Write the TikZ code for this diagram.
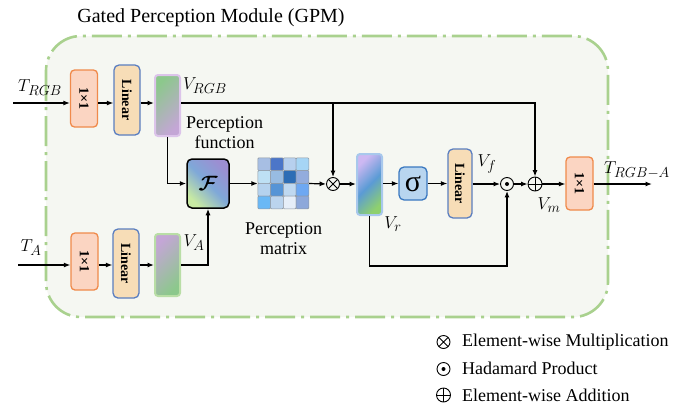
\documentclass[tikz,border=0pt]{standalone}
\usepackage{fontspec}
\setmainfont{Liberation Serif}
\usepackage{amsmath,bm,graphicx}
\usetikzlibrary{arrows.meta}
\definecolor{gpmline}{HTML}{A9D18E}
\definecolor{gpmfill}{HTML}{F5F7F2}
\definecolor{orgline}{HTML}{F08A4B}
\definecolor{orgfill}{HTML}{FBD5C2}
\definecolor{linline}{HTML}{5A7EC0}
\definecolor{linfill}{HTML}{F7DDB7}
\definecolor{sigline}{HTML}{3A78C0}
\definecolor{sigfill}{HTML}{B8D5EF}
\definecolor{barg}{HTML}{8CC88C}
\definecolor{barp}{HTML}{C4A6D6}
\definecolor{rgbline}{HTML}{DCC4EA}
\definecolor{aline}{HTML}{B9DEA6}
\definecolor{rline}{HTML}{A8C8EC}
\definecolor{vrp}{HTML}{CDB8F2}
\definecolor{vrb}{HTML}{5B9BD5}
\definecolor{vrg}{HTML}{8ED06E}
\definecolor{fp}{HTML}{9C8ED2}
\definecolor{fb}{HTML}{7FA8D8}
\definecolor{fg}{HTML}{C8EAA2}
\definecolor{cellb}{HTML}{8F98A3}
\newcommand{\bxt}{\fontsize{14}{15}\selectfont\bfseries}
\begin{document}
\begin{tikzpicture}[x=1pt,y=-1pt,
  arr/.style={-{Latex[length=6.5pt,width=5pt]}, line width=1.2pt},
  onebox/.style={draw=orgline, fill=orgfill, line width=1.3pt, rounded corners=4pt, minimum width=27pt, minimum height=57pt, inner sep=0pt},
  linbox/.style={draw=linline, fill=linfill, line width=1.3pt, rounded corners=5pt, minimum width=26pt, minimum height=70pt, inner sep=0pt},
  bar/.style={minimum width=25pt, minimum height=61pt, rounded corners=3pt, line width=2pt, inner sep=0pt},
  opc/.style={circle, draw, line width=0.9pt, minimum size=13pt, inner sep=0pt},
  otimesop/.style={opc, path picture={\draw[line width=0.8pt] (path picture bounding box.north west) -- (path picture bounding box.south east) (path picture bounding box.north east) -- (path picture bounding box.south west);}},
  oplusop/.style={opc, path picture={\draw[line width=0.8pt] (path picture bounding box.north) -- (path picture bounding box.south) (path picture bounding box.east) -- (path picture bounding box.west);}},
  odotop/.style={opc, path picture={\fill (path picture bounding box.center) circle (2pt);}},
  lbl/.style={font=\fontsize{19}{22}\selectfont, inner sep=0pt},
  txt/.style={font=\fontsize{18}{20}\selectfont, inner sep=0pt},
]
\useasboundingbox (0,0) rectangle (684,407);

% module frame
\draw[gpmline, fill=gpmfill, line width=2.6pt, rounded corners=35pt,
  dash pattern=on 30pt off 6pt on 3pt off 6pt] (46,36) rectangle (608,317);
\node[font=\fontsize{20}{22}\selectfont, inner sep=0pt] (title) at (211,18) {Gated Perception Module (GPM)};

% inputs
\coordinate (inT) at (13,103);
\coordinate (inA) at (18,265);
\coordinate (loopY) at (0,266);
\coordinate (out) at (652,184);

% nodes
\node[onebox] (c1a) at (84,98.5) {\rotatebox{-90}{\bxt 1×1}};
\node[linbox] (lin1) at (127,100) {\rotatebox{-90}{\bxt Linear}};
\node[bar, draw=rgbline, top color=barg, bottom color=barp, shading angle=45] (vrgb) at (167.5,105.5) {};

\node[onebox] (c1b) at (84.5,261.5) {\rotatebox{-90}{\bxt 1×1}};
\node[linbox, minimum height=69pt] (lin2) at (126,263.5) {\rotatebox{-90}{\bxt Linear}};
\node[bar, draw=aline, top color=barp, bottom color=barg, shading angle=45, minimum height=62pt] (va) at (167.5,265) {};

\node[draw=black, line width=1.5pt, rounded corners=5pt, minimum width=42pt, minimum height=49pt, inner sep=0pt,
  top color=fp, bottom color=fg, middle color=fb, shading angle=-45] (F) at (208,183.5) {\fontsize{21}{23}\selectfont$\bm{\mathcal{F}}$};

\node[minimum width=51pt, minimum height=51pt, inner sep=0pt] (mat) at (283.5,183.5) {};
\foreach \r/\k/\col in {0/0/A7BEE3,0/1/4C76C8,0/2/B7D0EE,0/3/A6D5F5,
                        1/0/BEE0F4,1/1/98BCE2,1/2/2D6DB5,1/3/93ACDD,
                        2/0/B5D2EE,2/1/5694D6,2/2/BFD8F0,2/3/6EA8F2,
                        3/0/6AB8F5,3/1/BBD4EE,3/2/E6EEF8,3/3/8DA8DA}{
  \definecolor{cellc}{HTML}{\col}
  \draw[draw=cellb, fill=cellc, line width=0.6pt, rounded corners=1pt]
    ([xshift=\k*12.75pt, yshift=-\r*12.75pt]mat.north west) rectangle ++(12.75,12.75);
}

\node[otimesop] (otimes) at (333,184) {};
\node[bar, draw=rline, top color=vrp, bottom color=vrg, middle color=vrb, shading angle=45] (vr) at (369.5,184.5) {};
\node[draw=sigline, fill=sigfill, line width=1.3pt, rounded corners=5pt, minimum width=28pt, minimum height=33pt, inner sep=0pt] (sig) at (413,183.5) {\fontsize{30}{30}\selectfont σ};
\node[linbox, minimum width=24pt, minimum height=69pt] (lin3) at (460,183.5) {\rotatebox{-90}{\bxt Linear}};
\node[odotop] (odot) at (507,184) {};
\node[oplusop, minimum size=14pt] (oplus) at (535,184) {};
\node[onebox, minimum height=53pt] (c1c) at (579.5,183.5) {\rotatebox{-90}{\bxt 1×1}};

% labels
\node[lbl] (tRGB) at (40,88) {$T_{RGB}$};
\node[lbl] (tA) at (31,248) {$T_{A}$};
\node[lbl] (lvrgb) at (205,86) {$V_{RGB}$};
\node[lbl] (lva) at (194,243) {$V_{A}$};
\node[lbl] (lvr) at (393,224) {$V_{r}$};
\node[lbl] (lvf) at (487,164) {$V_{f}$};
\node[lbl] (lvm) at (549,205) {$V_{m}$};
\node[lbl] (tout) at (637,170) {$T_{RGB-A}$};
\node[txt, align=center] (pf) at (224.5,133) {Perception\\function};
\node[txt, align=center] (pm) at (283.5,239) {Perception\\matrix};

% connectors
\draw[arr] (inT) -- (inT -| c1a.west);
\draw[arr] (c1a.east |- inT) -- (lin1.west |- inT);
\draw[arr] (lin1.east |- inT) -- (vrgb.west |- inT);
\draw[arr] (vrgb.east |- inT) -| (oplus.north);
\draw[arr] (otimes |- inT) -- (otimes.north);
\draw[arr] (vrgb.south) |- (F.west);
\draw[arr] (inA) -- (inA -| c1b.west);
\draw[arr] (c1b.east |- inA) -- (lin2.west |- inA);
\draw[arr] (lin2.east |- inA) -- (va.west |- inA);
\draw[arr] (va.east |- inA) -| (F.south);
\draw[arr] (F.east) -- (mat.west);
\draw[arr] (mat.east) -- (otimes.west);
\draw[arr] (otimes.east) -- (vr.west |- otimes);
\draw[arr] (vr.east |- sig) -- (sig.west);
\draw[arr] (sig.east) -- (lin3.west);
\draw[arr] (lin3.east |- odot) -- (odot.west);
\draw[arr] (odot.east) -- (oplus.west);
\draw[arr] (oplus.east) -- (c1c.west |- oplus);
\draw[arr] (c1c.east |- out) -- (out);
\draw[arr] (vr.south) -- (vr.south |- loopY) -| (odot.south);

% legend
\node[otimesop] (lg1) at (443.5,342) {};
\node[odotop] (lg2) at (443.5,369) {};
\node[oplusop, minimum size=14pt] (lg3) at (443.5,395) {};
\node[txt, anchor=west] (lt1) at (462,342) {Element-wise Multiplication};
\node[txt, anchor=west] (lt2) at (462,368) {Hadamard Product};
\node[txt, anchor=west] (lt3) at (462,395) {Element-wise Addition};
\end{tikzpicture}
\end{document}
